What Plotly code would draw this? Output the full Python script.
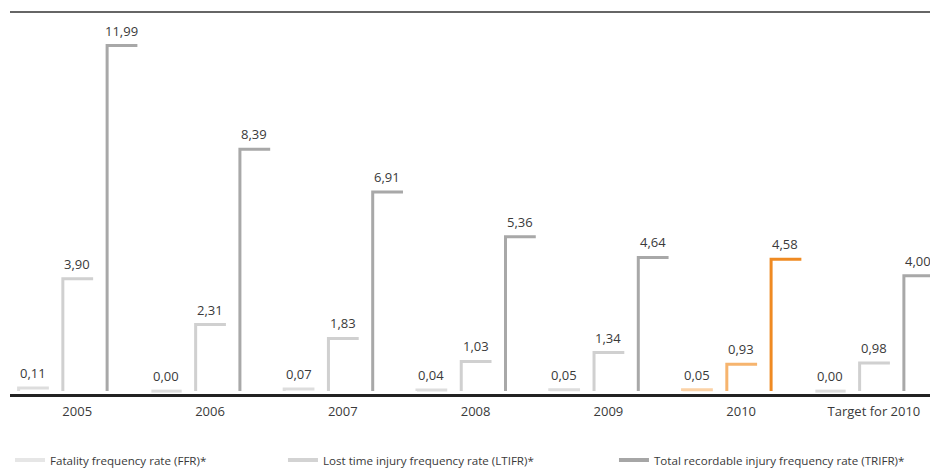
import plotly.graph_objects as go

categories = ["2005", "2006", "2007", "2008", "2009", "2010", "Target for 2010"]
ffr = [0.11, 0.00, 0.07, 0.04, 0.05, 0.05, 0.00]
ltifr = [3.90, 2.31, 1.83, 1.03, 1.34, 0.93, 0.98]
trifr = [11.99, 8.39, 6.91, 5.36, 4.64, 4.58, 4.00]
series_names = ["Fatality frequency rate (FFR)*",
                "Lost time injury frequency rate (LTIFR)*",
                "Total recordable injury frequency rate (TRIFR)*"]
highlight = "2010"

gray_colors = ["#dddddd", "#d0d0d0", "#a8a8a8"]
orange_colors = ["#fbd2a6", "#f6b46e", "#ef8a22"]
legend_colors = ["#e6e6e6", "#d3d3d3", "#a6a6a6"]

FONT = "Open Sans, Noto Sans, sans-serif"
TXT = "#3a3a3a"

series = [ffr, ltifr, trifr]
offsets = [-1/3, 0.0, 1/3]
half = 0.12
vx = 0.108

fig = go.Figure()
annotations = []
hi = categories.index(highlight)

for s, vals in enumerate(series):
    xs, ys = [], []
    for i, v in enumerate(vals):
        c = i + offsets[s]
        if i == hi:
            fig.add_trace(go.Scatter(
                x=[c - vx, c - vx, c + half], y=[0, v, v], mode="lines",
                line=dict(color=orange_colors[s], width=3),
                showlegend=False, hoverinfo="skip"))
        else:
            xs += [c - vx, c - vx, c + half, None]
            ys += [0, v, v, None]
        annotations.append(dict(
            x=c, y=v, xref="x", yref="y", text=f"{v:.2f}".replace(".", ","),
            showarrow=False, yanchor="bottom", yshift=4,
            font=dict(family=FONT, size=13, color=TXT)))
    leg = "legend" if s == 0 else f"legend{s+1}"
    fig.add_trace(go.Scatter(
        x=xs, y=ys, mode="lines", name=series_names[s],
        line=dict(color=gray_colors[s], width=3),
        showlegend=False, hoverinfo="skip"))
    fig.add_trace(go.Scatter(
        x=[None], y=[None], mode="lines", name=series_names[s],
        line=dict(color=legend_colors[s], width=4), legend=leg))

LEG_Y = (394 - 460) / 382
legend_common = dict(orientation="h", xanchor="left", y=LEG_Y, yanchor="middle",
                     font=dict(family=FONT, size=11.6, color=TXT),
                     bgcolor="rgba(0,0,0,0)")

fig.update_layout(
    width=930, height=472,
    margin=dict(l=10, r=0, t=12, b=78, autoexpand=False),
    plot_bgcolor="white", paper_bgcolor="white",
    font=dict(family=FONT, size=12, color=TXT),
    annotations=annotations,
    xaxis=dict(range=[-0.506, 6.422], tickmode="array",
               tickvals=list(range(len(categories))), ticktext=categories,
               showgrid=False, zeroline=False, showline=True,
               linecolor="#222222", linewidth=3, ticks="", ticklabelstandoff=3,
               tickfont=dict(family=FONT, size=13, color=TXT)),
    yaxis=dict(range=[-0.1, 13.155], visible=False, showgrid=False),
    shapes=[dict(type="line", xref="paper", yref="paper", x0=0, x1=1, y0=1, y1=1,
                 line=dict(color="#333333", width=1.5))],
    legend=dict(x=0.0, **legend_common),
    legend2=dict(x=0.2967, **legend_common),
    legend3=dict(x=0.6565, **legend_common),
)

fig.write_html("out.html", config={"displayModeBar": False},
               post_script="document.body.style.margin='0';document.body.style.overflow='hidden';")
